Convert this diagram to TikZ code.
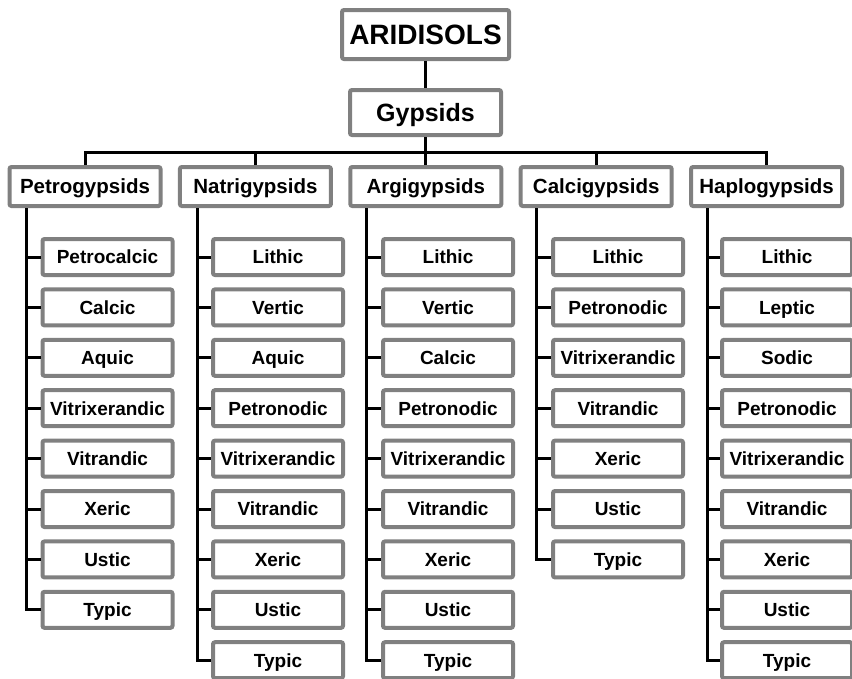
\documentclass[tikz,border=0pt]{standalone}
\usepackage{fontspec}
\setmainfont{Liberation Sans}
\usetikzlibrary{positioning}
\definecolor{soilframe}{HTML}{808080}

\begin{document}
\begin{tikzpicture}[
  x=1pt, y=-1pt,
  node distance=10.4pt,
  soilbox/.style={rectangle, rounded corners=2pt, draw=soilframe, fill=white, line width=4pt,
                  align=center, inner sep=0pt, text depth=0pt},
  ordbox/.style={soilbox, minimum width=167pt, minimum height=49pt, text height=20pt,
                 font=\fontsize{28}{30}\selectfont\bfseries},
  subordbox/.style={soilbox, minimum width=151pt, minimum height=45pt, text height=17.9pt,
                    font=\fontsize{25}{27}\selectfont\bfseries},
  grpbox/.style={soilbox, minimum width=151pt, minimum height=39pt, text height=14.7pt,
                 font=\fontsize{20.5}{22}\selectfont\bfseries},
  leafbox/.style={soilbox, minimum width=130pt, minimum height=36pt, text height=13.6pt,
                  font=\fontsize{19}{21}\selectfont\bfseries},
  link/.style={draw=black, line width=3pt}
]
\useasboundingbox (0,0) rectangle (852,678);

\node[ordbox] (ari) at (425.5,34.5) {ARIDISOLS};
\node[subordbox] (gyp) at (425.5,112.5) {Gypsids};

\node[grpbox] (petro) at (85,186.5) {Petrogypsids};
\node[grpbox] (natri) at (255.4,186.5) {Natrigypsids};
\node[grpbox] (argi) at (425.8,186.5) {Argigypsids};
\node[grpbox] (calci) at (596.2,186.5) {Calcigypsids};
\node[grpbox] (haplo) at (766.6,186.5) {Haplogypsids};

\node[leafbox] (petro1) at (107.5,257) {Petrocalcic};
\node[leafbox, below=of petro1] (petro2) {Calcic};
\node[leafbox, below=of petro2] (petro3) {Aquic};
\node[leafbox, below=of petro3] (petro4) {Vitrixerandic};
\node[leafbox, below=of petro4] (petro5) {Vitrandic};
\node[leafbox, below=of petro5] (petro6) {Xeric};
\node[leafbox, below=of petro6] (petro7) {Ustic};
\node[leafbox, below=of petro7] (petro8) {Typic};

\node[leafbox] (natri1) at (278,257) {Lithic};
\node[leafbox, below=of natri1] (natri2) {Vertic};
\node[leafbox, below=of natri2] (natri3) {Aquic};
\node[leafbox, below=of natri3] (natri4) {Petronodic};
\node[leafbox, below=of natri4] (natri5) {Vitrixerandic};
\node[leafbox, below=of natri5] (natri6) {Vitrandic};
\node[leafbox, below=of natri6] (natri7) {Xeric};
\node[leafbox, below=of natri7] (natri8) {Ustic};
\node[leafbox, below=of natri8] (natri9) {Typic};

\node[leafbox] (argi1) at (448,257) {Lithic};
\node[leafbox, below=of argi1] (argi2) {Vertic};
\node[leafbox, below=of argi2] (argi3) {Calcic};
\node[leafbox, below=of argi3] (argi4) {Petronodic};
\node[leafbox, below=of argi4] (argi5) {Vitrixerandic};
\node[leafbox, below=of argi5] (argi6) {Vitrandic};
\node[leafbox, below=of argi6] (argi7) {Xeric};
\node[leafbox, below=of argi7] (argi8) {Ustic};
\node[leafbox, below=of argi8] (argi9) {Typic};

\node[leafbox] (calci1) at (618,257) {Lithic};
\node[leafbox, below=of calci1] (calci2) {Petronodic};
\node[leafbox, below=of calci2] (calci3) {Vitrixerandic};
\node[leafbox, below=of calci3] (calci4) {Vitrandic};
\node[leafbox, below=of calci4] (calci5) {Xeric};
\node[leafbox, below=of calci5] (calci6) {Ustic};
\node[leafbox, below=of calci6] (calci7) {Typic};

\node[leafbox] (haplo1) at (787,257) {Lithic};
\node[leafbox, below=of haplo1] (haplo2) {Leptic};
\node[leafbox, below=of haplo2] (haplo3) {Sodic};
\node[leafbox, below=of haplo3] (haplo4) {Petronodic};
\node[leafbox, below=of haplo4] (haplo5) {Vitrixerandic};
\node[leafbox, below=of haplo5] (haplo6) {Vitrandic};
\node[leafbox, below=of haplo6] (haplo7) {Xeric};
\node[leafbox, below=of haplo7] (haplo8) {Ustic};
\node[leafbox, below=of haplo8] (haplo9) {Typic};

\coordinate (bus) at (425.5,152);
\draw[link] (ari) -- (gyp);
\draw[link] (gyp) -- (gyp |- bus);
\draw[link] (petro.north) |- (bus) -| (haplo.north);
\draw[link] (natri) -- (natri |- bus);
\draw[link] (argi) -- (argi |- bus);
\draw[link] (calci) -- (calci |- bus);

\coordinate (petrot) at ([xshift=-59pt]petro.south);
\coordinate (natrit) at ([xshift=-58.4pt]natri.south);
\coordinate (argit) at ([xshift=-59.8pt]argi.south);
\coordinate (calcit) at ([xshift=-60.2pt]calci.south);
\coordinate (haplot) at ([xshift=-59.6pt]haplo.south);

\draw[link] (petrot) |- (petro1.west) (petrot) |- (petro2.west) (petrot) |- (petro3.west)
  (petrot) |- (petro4.west) (petrot) |- (petro5.west) (petrot) |- (petro6.west)
  (petrot) |- (petro7.west) (petrot) |- (petro8.west);
\draw[link] (natrit) |- (natri1.west) (natrit) |- (natri2.west) (natrit) |- (natri3.west)
  (natrit) |- (natri4.west) (natrit) |- (natri5.west) (natrit) |- (natri6.west)
  (natrit) |- (natri7.west) (natrit) |- (natri8.west) (natrit) |- (natri9.west);
\draw[link] (argit) |- (argi1.west) (argit) |- (argi2.west) (argit) |- (argi3.west)
  (argit) |- (argi4.west) (argit) |- (argi5.west) (argit) |- (argi6.west)
  (argit) |- (argi7.west) (argit) |- (argi8.west) (argit) |- (argi9.west);
\draw[link] (calcit) |- (calci1.west) (calcit) |- (calci2.west) (calcit) |- (calci3.west)
  (calcit) |- (calci4.west) (calcit) |- (calci5.west) (calcit) |- (calci6.west)
  (calcit) |- (calci7.west);
\draw[link] (haplot) |- (haplo1.west) (haplot) |- (haplo2.west) (haplot) |- (haplo3.west)
  (haplot) |- (haplo4.west) (haplot) |- (haplo5.west) (haplot) |- (haplo6.west)
  (haplot) |- (haplo7.west) (haplot) |- (haplo8.west) (haplot) |- (haplo9.west);
\end{tikzpicture}
\end{document}
